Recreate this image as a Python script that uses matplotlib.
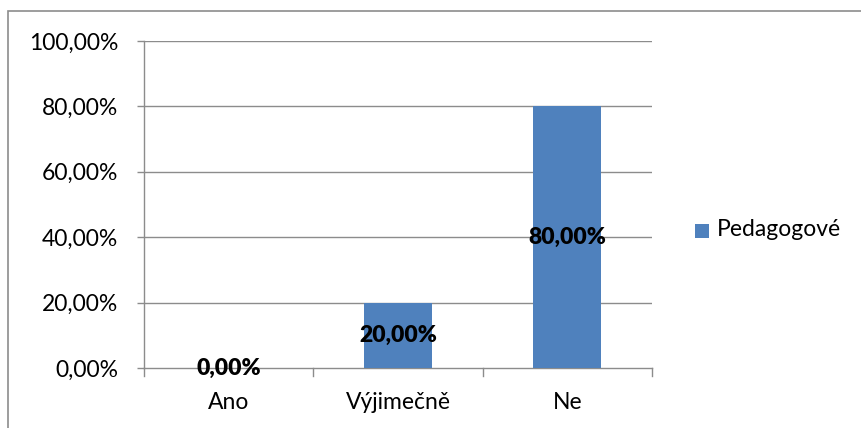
import matplotlib
matplotlib.use("Agg")
import matplotlib.pyplot as plt
from matplotlib.patches import Rectangle

categories = ["Ano", "Výjimečně", "Ne"]
values = [0.0, 20.0, 80.0]
series_name = "Pedagogové"
yticks = [0, 20, 40, 60, 80, 100]
ytick_labels = ["0,00%", "20,00%", "40,00%", "60,00%", "80,00%", "100,00%"]
bar_labels = ["0,00%", "20,00%", "80,00%"]

W, H = 861, 428
fig = plt.figure(figsize=(W / 100, H / 100), dpi=100)
plt.rcParams['font.family'] = ['Lato', 'DejaVu Sans']
FS = 16.5

# outer border
fig.patches.append(Rectangle((8 / W, -0.01), 1.0, 1 - 11 / H + 0.01, transform=fig.transFigure,
                             fill=False, edgecolor="#8c8c8c", linewidth=1.2))

ax = fig.add_axes([144 / W, 1 - 368 / H, (652 - 144) / W, (368 - 41) / H])
blue = "#4F81BD"
grid = "#8c8c8c"
x = list(range(len(categories)))
ax.bar(x, values, width=0.4, color=blue, zorder=3)
ax.set_xlim(-0.5, len(categories) - 0.5)
ax.set_ylim(0, 100)
ax.set_yticks(yticks)
ax.set_yticklabels(ytick_labels, fontsize=FS)
ax.set_xticks(x)
ax.set_xticklabels(categories, fontsize=FS)
ax.tick_params(axis='x', length=0, pad=17)
ax.tick_params(axis='y', length=5, width=1, color=grid, direction='out', pad=13.5)
# category separators ticks
for b in [-0.5, 0.5, 1.5, 2.5]:
    ax.plot([b, b], [0, -2.3], color=grid, lw=1, clip_on=False, zorder=4)
for yv in yticks[1:]:
    ax.axhline(yv, color=grid, lw=1, zorder=1)
for s in ["top", "right"]:
    ax.spines[s].set_visible(False)
ax.spines["left"].set_color(grid)
ax.spines["bottom"].set_color(grid)
ax.spines["left"].set_linewidth(1)
ax.spines["bottom"].set_linewidth(1)

for xi, v, lab in zip(x, values, bar_labels):
    ax.text(xi, v / 2, lab, ha="center", va="center", fontsize=FS, fontweight="heavy", zorder=5)

# legend
fig.patches.append(Rectangle((695 / W, 1 - 238 / H), 14 / W, 14 / H, transform=fig.transFigure,
                             facecolor=blue, edgecolor="none"))
fig.text(717 / W, 1 - 230 / H, series_name, fontsize=FS, va="center", ha="left")

fig.savefig("out.png", dpi=100)
